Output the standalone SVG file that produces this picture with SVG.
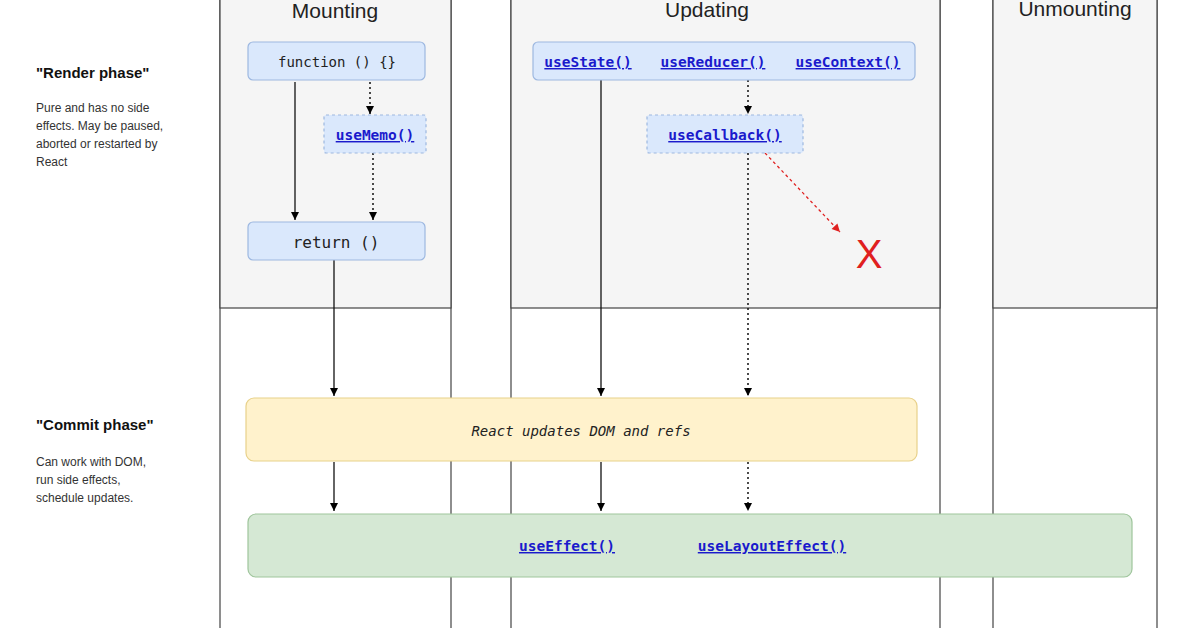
<svg xmlns="http://www.w3.org/2000/svg" width="1196" height="628" viewBox="0 0 1196 628">
<defs>
<marker id="ah" markerWidth="10" markerHeight="10" refX="9" refY="5" orient="auto" markerUnits="userSpaceOnUse"><path d="M1,1 L9,5 L1,9 Z" fill="#000"/></marker>
<marker id="ahr" markerWidth="10" markerHeight="10" refX="9" refY="5" orient="auto" markerUnits="userSpaceOnUse"><path d="M1,1 L9,5 L1,9 Z" fill="#e02020"/></marker>
</defs>
<style>
.col{fill:#fff;stroke:#444;stroke-width:1.2}
.top{fill:#f5f5f5;stroke:#444;stroke-width:1.2}
.hd{font-family:"Liberation Sans",Arial,sans-serif;font-size:21px;fill:#222;text-anchor:middle}
.blue{fill:#dae8fc;stroke:#9db8e0;stroke-width:1.2}
.blued{fill:#dae8fc;stroke:#9db8e0;stroke-width:1.2;stroke-dasharray:3 3}
.mono{font-family:"DejaVu Sans Mono","Liberation Mono",monospace;font-size:14px;fill:#222;text-anchor:middle}
.lnk{font-family:"DejaVu Sans Mono","Liberation Mono",monospace;font-size:14.5px;fill:#1a1acc;text-decoration:underline;text-anchor:middle;font-weight:bold}
.ln{stroke:#111;stroke-width:1.3;fill:none;marker-end:url(#ah)}
.dot{stroke:#111;stroke-width:1.5;fill:none;stroke-dasharray:2 3;marker-end:url(#ah)}
.b{font-family:"Liberation Sans",Arial,sans-serif;font-size:15px;font-weight:bold;fill:#111}
.s{font-family:"Liberation Sans",Arial,sans-serif;font-size:12px;fill:#333}
</style>
<rect width="1196" height="628" fill="#fff"/>
<g id="columns">
<rect class="col" x="220" y="-2" width="231" height="640"/>
<rect class="top" x="220" y="-2" width="231" height="310"/>
<rect class="col" x="511" y="-2" width="429" height="640"/>
<rect class="top" x="511" y="-2" width="429" height="310"/>
<rect class="col" x="993" y="-2" width="164" height="640"/>
<rect class="top" x="993" y="-2" width="164" height="310"/>
<text class="hd" x="335" y="18">Mounting</text>
<text class="hd" x="707" y="17">Updating</text>
<text class="hd" x="1075" y="16">Unmounting</text>
</g>
<g id="labels">
<text class="b" x="36" y="78">"Render phase"</text>
<text class="s" x="36" y="112">Pure and has no side</text>
<text class="s" x="36" y="130">effects. May be paused,</text>
<text class="s" x="36" y="148">aborted or restarted by</text>
<text class="s" x="36" y="166">React</text>
<text class="b" x="36" y="430">"Commit phase"</text>
<text class="s" x="36" y="466">Can work with DOM,</text>
<text class="s" x="36" y="484">run side effects,</text>
<text class="s" x="36" y="502">schedule updates.</text>
</g>
<g id="connectors">
<line class="ln" x1="295" y1="82" x2="295" y2="220"/>
<line class="dot" x1="370" y1="82" x2="370" y2="114"/>
<line class="dot" x1="373" y1="153" x2="373" y2="220"/>
<line class="ln" x1="334" y1="260" x2="334" y2="396"/>
<line class="ln" x1="334" y1="462" x2="334" y2="511"/>
<line class="ln" x1="601" y1="80" x2="601" y2="396"/>
<line class="ln" x1="601" y1="462" x2="601" y2="511"/>
<line class="dot" x1="748" y1="80" x2="748" y2="114"/>
<line class="dot" x1="748" y1="153" x2="748" y2="396"/>
<line class="dot" x1="748" y1="462" x2="748" y2="511"/>
<line x1="765" y1="153" x2="840" y2="232" stroke="#e02020" stroke-width="1.3" stroke-dasharray="3 3" marker-end="url(#ahr)"/>
</g>
<g id="n-function"><rect class="blue" x="248" y="42" width="177" height="38" rx="5"/><text class="mono" x="337" y="67">function () {}</text></g>
<g id="n-usememo"><rect class="blued" x="324" y="115" width="102" height="38" rx="2"/><text class="lnk" x="375" y="140">useMemo()</text></g>
<g id="n-return"><rect class="blue" x="248" y="222" width="177" height="38" rx="5"/><text class="mono" x="336" y="248" style="font-size:16px">return ()</text></g>
<g id="n-hooks"><rect class="blue" x="533" y="42" width="382" height="38" rx="5"/>
<text class="lnk" x="588" y="67">useState()</text><text class="lnk" x="713" y="67">useReducer()</text><text class="lnk" x="848" y="67">useContext()</text></g>
<g id="n-usecallback"><rect class="blued" x="647" y="115" width="156" height="38" rx="2"/><text class="lnk" x="725" y="140">useCallback()</text></g>
<g id="n-x"><text x="869" y="268" font-family="Liberation Sans,Arial,sans-serif" font-size="40" fill="#e02020" text-anchor="middle">X</text></g>
<g id="n-dom"><rect x="246" y="398" width="671" height="63" rx="8" fill="#fff2cc" stroke="#e8d18a" stroke-width="1.2"/><text class="mono" x="581" y="436" style="font-style:italic">React updates DOM and refs</text></g>
<g id="n-effects"><rect x="248" y="514" width="884" height="63" rx="8" fill="#d5e8d4" stroke="#9fc59c" stroke-width="1.2"/>
<text class="lnk" x="567" y="551">useEffect()</text><text class="lnk" x="772" y="551">useLayoutEffect()</text></g>
</svg>
